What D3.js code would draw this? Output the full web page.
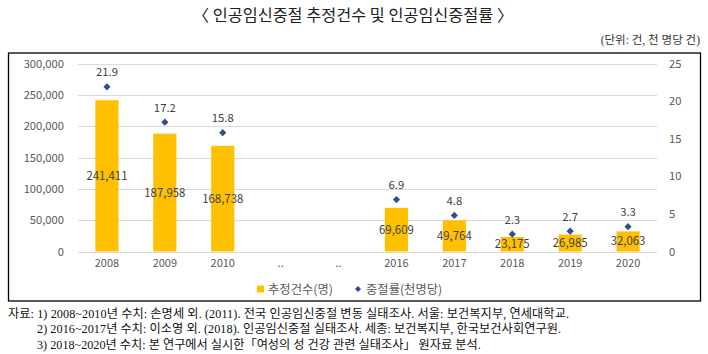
<!DOCTYPE html>
<html>
<head>
<meta charset="utf-8">
<script src="https://cdn.jsdelivr.net/npm/d3@7"></script>
<style>
  body { margin: 0; background: #fff; }
  svg { display: block; }
</style>
</head>
<body>
<div id="chart"></div>
<script>
// data
const years = ["2008", "2009", "2010", "..a", "..b", "2016", "2017", "2018", "2019", "2020"];
const counts = [241411, 187958, 168738, null, null, 69609, 49764, 23175, 26985, 32063];
const rates = [21.9, 17.2, 15.8, null, null, 6.9, 4.8, 2.3, 2.7, 3.3];
const leftTicks = [0, 50000, 100000, 150000, 200000, 250000, 300000];
const rightTicks = [0, 5, 10, 15, 20, 25];
const notes = [
  "자료: 1) 2008~2010년 수치: 손명세 외. (2011). 전국 인공임신중절 변동 실태조사. 서울: 보건복지부, 연세대학교.",
  "2) 2016~2017년 수치: 이소영 외. (2018). 인공임신중절 실태조사. 세종: 보건복지부, 한국보건사회연구원.",
  "3) 2018~2020년 수치: 본 연구에서 실시한「여성의 성 건강 관련 실태조사」 원자료 분석."
];

const W = 708, H = 354;
const sans = "'Noto Sans CJK KR', 'Noto Sans', sans-serif";
const serif = "'Liberation Serif', 'Noto Sans CJK KR', serif";

const svg = d3.select("#chart").append("svg")
  .attr("width", W).attr("height", H);

// title
svg.append("text")
  .attr("x", 353).attr("y", 21)
  .attr("text-anchor", "middle")
  .style("font-family", sans).style("font-size", "16.3px")
  .attr("fill", "#222")
  .text("〈 인공임신중절 추정건수 및 인공임신중절률 〉");

svg.append("text")
  .attr("x", 700).attr("y", 44)
  .attr("text-anchor", "end")
  .style("font-family", serif).style("font-size", "11.5px")
  .attr("fill", "#333")
  .text("(단위: 건, 천 명당 건)");

// frame
svg.append("rect")
  .attr("x", 8.5).attr("y", 53).attr("width", 692).attr("height", 248)
  .attr("fill", "none").attr("stroke", "#000").attr("stroke-width", 1.3);

const plot = {left: 78, right: 657, top: 63.5, bottom: 251.5};

const x = d3.scaleBand()
  .domain(years)
  .range([plot.left, plot.right])
  .paddingInner(0.6).paddingOuter(0.3);

const y = d3.scaleLinear().domain([0, 300000]).range([plot.bottom, plot.top]);
const y2 = d3.scaleLinear().domain([0, 25]).range([plot.bottom, plot.top]);

// gridlines
svg.append("g")
  .selectAll("line")
  .data(leftTicks)
  .join("line")
    .attr("x1", plot.left).attr("x2", plot.right)
    .attr("y1", d => Math.round(y(d)) + 0.5).attr("y2", d => Math.round(y(d)) + 0.5)
    .attr("stroke", "#d9d9d9").attr("stroke-width", 1);

// left axis
const yAxis = svg.append("g")
  .attr("transform", `translate(${plot.left - 14},0)`)
  .call(d3.axisLeft(y).tickValues(leftTicks).tickSize(0).tickPadding(0).tickFormat(d3.format(",")));
yAxis.select(".domain").remove();
yAxis.selectAll("text")
  .style("font-family", sans).style("font-size", "11.2px").attr("fill", "#595959");

// right axis
const y2Axis = svg.append("g")
  .attr("transform", `translate(${plot.right + 12},0)`)
  .call(d3.axisRight(y2).tickValues(rightTicks).tickSize(0).tickPadding(0));
y2Axis.select(".domain").remove();
y2Axis.selectAll("text")
  .style("font-family", sans).style("font-size", "11.2px").attr("fill", "#595959");

// x axis
const xAxis = svg.append("g")
  .attr("transform", `translate(0,${plot.bottom + 8})`)
  .call(d3.axisBottom(x).tickSize(0).tickPadding(0).tickFormat(d => d.startsWith("..") ? ".." : d));
xAxis.select(".domain").remove();
xAxis.selectAll("text")
  .style("font-family", sans).style("font-size", "11px").attr("fill", "#595959");

const rows = years.map((k, i) => ({key: k, count: counts[i], rate: rates[i]}));

// bars
svg.append("g")
  .selectAll("rect")
  .data(rows.filter(d => d.count != null))
  .join("rect")
    .attr("x", d => x(d.key))
    .attr("y", d => y(d.count))
    .attr("width", x.bandwidth())
    .attr("height", d => y(0) - y(d.count))
    .attr("fill", "#ffc000");

// bar labels
svg.append("g")
  .selectAll("text")
  .data(rows.filter(d => d.count != null))
  .join("text")
    .attr("x", d => x(d.key) + x.bandwidth() / 2)
    .attr("y", d => (y(d.count) + y(0)) / 2 + 4)
    .attr("text-anchor", "middle")
    .style("font-family", sans).style("font-size", "11.4px")
    .attr("fill", "#404040")
    .text(d => d3.format(",")(d.count));

// rate markers (small square diamond)
const diamond = "M0,-3.6L3.6,0L0,3.6L-3.6,0Z";
svg.append("g")
  .selectAll("path")
  .data(rows.filter(d => d.rate != null))
  .join("path")
    .attr("transform", d => `translate(${x(d.key) + x.bandwidth() / 2},${y2(d.rate)})`)
    .attr("d", diamond)
    .attr("fill", "#2f4f8f");

svg.append("g")
  .selectAll("text")
  .data(rows.filter(d => d.rate != null))
  .join("text")
    .attr("x", d => x(d.key) + x.bandwidth() / 2)
    .attr("y", d => y2(d.rate) - 10.5)
    .attr("text-anchor", "middle")
    .style("font-family", sans).style("font-size", "11.3px")
    .attr("fill", "#404040")
    .text(d => d.rate.toFixed(1));

// legend
const lg = svg.append("g").attr("transform", "translate(257,289)");
lg.append("rect").attr("x", 0).attr("y", -3.5).attr("width", 7).attr("height", 7).attr("fill", "#ffc000");
lg.append("text").attr("x", 11).attr("y", 4.5)
  .style("font-family", sans).style("font-size", "12.3px").attr("fill", "#595959")
  .text("추정건수(명)");
lg.append("path").attr("transform", "translate(101,0)").attr("d", "M0,-3L3,0L0,3L-3,0Z").attr("fill", "#2f4f8f");
lg.append("text").attr("x", 109).attr("y", 4.5)
  .style("font-family", sans).style("font-size", "12.3px").attr("fill", "#595959")
  .text("중절률(천명당)");

// footnotes
const noteLen = [561, 524, null];
svg.append("g")
  .selectAll("text")
  .data(notes)
  .join("text")
    .attr("x", (d, i) => i === 0 ? 8 : 37)
    .attr("y", (d, i) => 317.5 + i * 15.5)
    .attr("textLength", (d, i) => noteLen[i])
    .attr("lengthAdjust", "spacing")
    .style("font-family", serif).style("font-size", "12.2px")
    .attr("fill", "#111")
    .text(d => d);
</script>
</body>
</html>
